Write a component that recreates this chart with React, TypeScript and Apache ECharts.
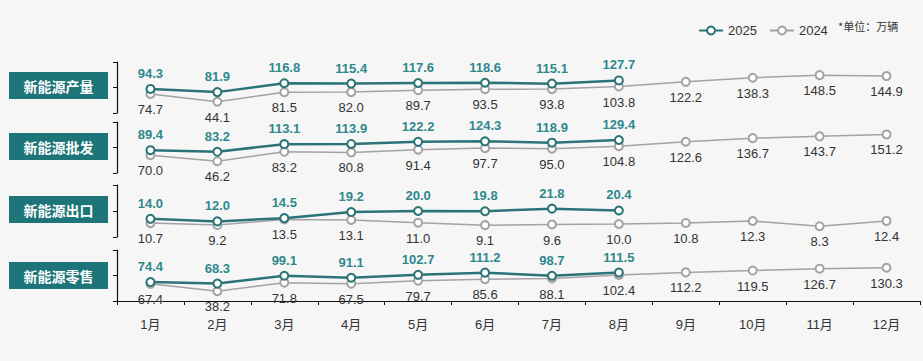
import React, { useEffect, useRef } from "react";
import * as echarts from "echarts";

const months = ["1月", "2月", "3月", "4月", "5月", "6月", "7月", "8月", "9月", "10月", "11月", "12月"];
const panelNames = ["新能源产量", "新能源批发", "新能源出口", "新能源零售"];
const prod2025 = [94.3, 81.9, 116.8, 115.4, 117.6, 118.6, 115.1, 127.7];
const prod2024 = [74.7, 44.1, 81.5, 82.0, 89.7, 93.5, 93.8, 103.8, 122.2, 138.3, 148.5, 144.9];
const whole2025 = [89.4, 83.2, 113.1, 113.9, 122.2, 124.3, 118.9, 129.4];
const whole2024 = [70.0, 46.2, 83.2, 80.8, 91.4, 97.7, 95.0, 104.8, 122.6, 136.7, 143.7, 151.2];
const export2025 = [14.0, 12.0, 14.5, 19.2, 20.0, 19.8, 21.8, 20.4];
const export2024 = [10.7, 9.2, 13.5, 13.1, 11.0, 9.1, 9.6, 10.0, 10.8, 12.3, 8.3, 12.4];
const retail2025 = [74.4, 68.3, 99.1, 91.1, 102.7, 111.2, 98.7, 111.5];
const retail2024 = [67.4, 38.2, 71.8, 67.5, 79.7, 85.6, 88.1, 102.4, 112.2, 119.5, 126.7, 130.3];
const yMax = [200, 200, 40, 200];
const yStep = [100, 100, 20, 100];

const TEAL = "#2a7477";
const TEAL_LABEL = "#2e888c";
const GRAY = "#a3a3a3";
const FONT = "'Liberation Sans', 'Noto Sans CJK SC', sans-serif";

export default function App() {
  const ref = useRef<HTMLDivElement>(null);
  useEffect(() => {
    if (!ref.current) return;
    const chart = echarts.init(ref.current, null, { renderer: "svg" });
    const s2025 = [prod2025, whole2025, export2025, retail2025];
    const s2024 = [prod2024, whole2024, export2024, retail2024];
    const grids = [
      { top: 62, height: 51 },
      { top: 122, height: 51 },
      { top: 185, height: 52 },
      { top: 250, height: 51 },
    ];
    const boxTops = [72, 133, 196, 262];
    const fmt = (p: any) => (p.value == null ? "" : Number(p.value).toFixed(1));
    const series: any[] = [];
    for (let i = 0; i < 4; i++) {
      series.push({
        name: "2024",
        type: "line",
        xAxisIndex: i,
        yAxisIndex: i,
        data: s2024[i],
        symbol: "emptyCircle",
        symbolSize: 8,
        lineStyle: { color: GRAY, width: 1.5 },
        itemStyle: { color: GRAY, borderColor: GRAY, borderWidth: 1.5 },
        label: { show: true, position: "bottom", distance: 4, color: "#333", fontSize: 13, fontFamily: FONT, formatter: fmt },
        z: 2,
      });
      series.push({
        name: "2025",
        type: "line",
        xAxisIndex: i,
        yAxisIndex: i,
        data: s2025[i],
        symbol: "emptyCircle",
        symbolSize: 8,
        lineStyle: { color: TEAL, width: 2.5 },
        itemStyle: { color: TEAL, borderColor: TEAL, borderWidth: 1.5 },
        label: { show: true, position: "top", distance: 4, color: TEAL_LABEL, fontSize: 13, fontWeight: "bold", fontFamily: FONT, formatter: fmt },
        z: 3,
      });
    }
    const graphics: any[] = [];
    for (let i = 0; i < 4; i++) {
      graphics.push({
        type: "group",
        left: 9,
        top: boxTops[i],
        children: [
          { type: "rect", shape: { x: 0, y: 0, width: 99, height: 27 }, style: { fill: "#1d7479" } },
          {
            type: "text",
            x: 49.5,
            y: 13.5,
            style: { text: panelNames[i], fill: "#fff", font: "bold 14px 'Noto Sans CJK SC', sans-serif", align: "center", verticalAlign: "middle" },
          },
        ],
      });
    }
    graphics.push({
      type: "text",
      left: 838,
      top: 20,
      style: { text: "*单位：万辆", fill: "#333", font: "11px 'Noto Sans CJK SC', sans-serif" },
    });
    chart.setOption({
      animation: false,
      backgroundColor: "#f6f6f6",
      textStyle: { fontFamily: FONT },
      legend: {
        data: ["2025", "2024"],
        left: 693,
        top: 19,
        itemWidth: 24,
        itemHeight: 10,
        itemGap: 12,
        textStyle: { fontSize: 13, color: "#333", fontFamily: FONT },
      },
      grid: grids.map((g) => ({ left: 117, right: 3, top: g.top, height: g.height })),
      xAxis: grids.map((_, i) => ({
        type: "category",
        gridIndex: i,
        data: months,
        show: i === 3,
        boundaryGap: true,
        axisLine: { show: true, lineStyle: { color: "#111", width: 1.2 } },
        axisTick: { show: true, length: 4, lineStyle: { color: "#111" } },
        axisLabel: { show: i === 3, color: "#333", fontSize: 13, margin: 17, fontFamily: FONT },
        splitLine: { show: false },
      })),
      yAxis: grids.map((_, i) => ({
        type: "value",
        gridIndex: i,
        min: 0,
        max: yMax[i],
        interval: yStep[i],
        axisLine: { show: true, lineStyle: { color: "#111", width: 1.2 } },
        axisTick: { show: true, length: 4, lineStyle: { color: "#111" } },
        axisLabel: { show: false },
        splitLine: { show: false },
      })),
      series,
      graphic: graphics,
    });
    return () => chart.dispose();
  }, []);
  return <div ref={ref} style={{ position: "absolute", left: 0, top: 0, width: 923, height: 361 }} />;
}
